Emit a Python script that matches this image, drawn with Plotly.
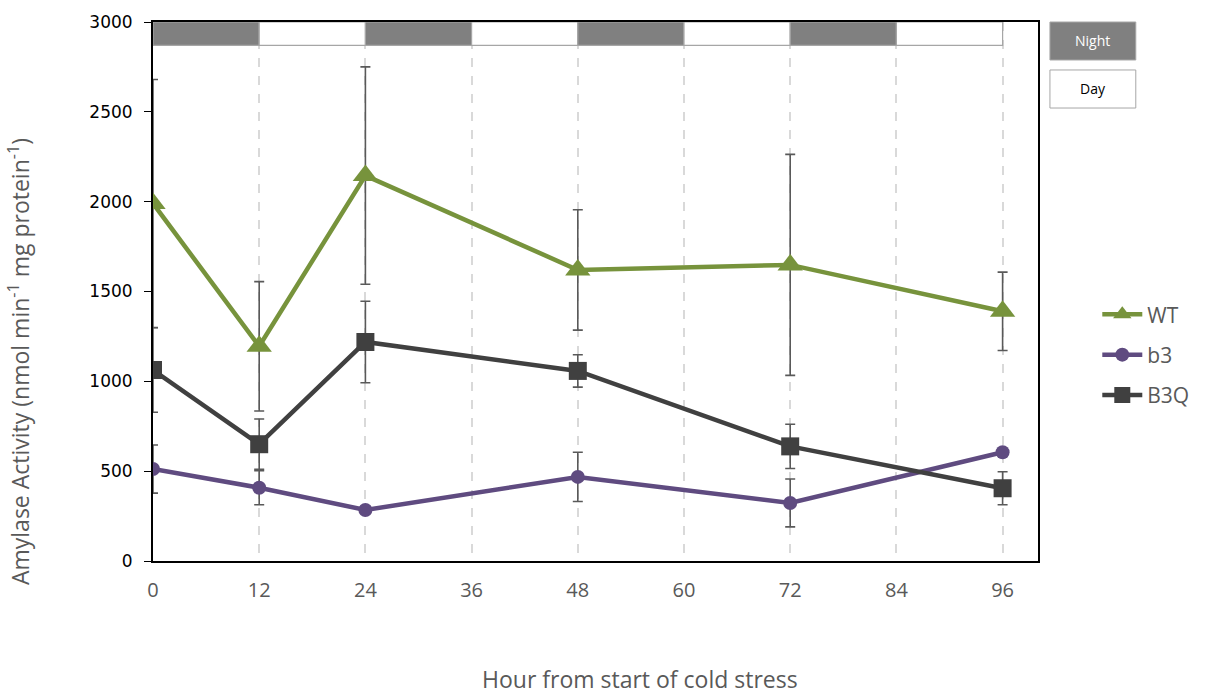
import plotly.graph_objects as go

hours = [0, 12, 24, 48, 72, 96]
wt = [1990, 1195, 2145, 1620, 1648, 1390]
wt_err = [690, 360, 605, 335, 615, 218]
b3 = [512, 408, 284, 468, 323, 605]
b3_err = [134, 95, 20, 137, 133, 20]
b3q = [1063, 650, 1219, 1058, 638, 405]
b3q_err = [235, 140, 227, 90, 123, 92]

series_names = ["WT", "b3", "B3Q"]
colors = ["#77933c", "#5f4b80", "#404040"]
symbols = ["triangle-up", "circle", "square"]
marker_sizes = [22, 14, 18]

period_starts = [0, 12, 24, 36, 48, 60, 72, 84]
period_kinds = ["Night", "Day", "Night", "Day", "Night", "Day", "Night", "Day"]
x_ticks = [0, 12, 24, 36, 48, 60, 72, 84, 96]

fig = go.Figure()
for name, y, err, c, s, ms in zip(series_names, [wt, b3, b3q], [wt_err, b3_err, b3q_err],
                                   colors, symbols, marker_sizes):
    fig.add_trace(go.Scatter(
        x=hours, y=y, name=name, mode="lines+markers",
        line=dict(color=c, width=4.5),
        marker=dict(symbol=s, size=ms, color=c),
        error_y=dict(type="data", array=err, visible=True, color="#595959",
                     thickness=1.6, width=5),
        legendgroup=name,
    ))

# night/day bars
for start, kind in zip(period_starts, period_kinds):
    fig.add_shape(type="rect", xref="x", yref="y", x0=start, x1=start + 12,
                  y0=2870, y1=3000, layer="above",
                  fillcolor="#808080" if kind == "Night" else "white",
                  line=dict(color="#a6a6a6", width=1.2))

# night/day key
fig.add_shape(type="rect", xref="paper", yref="paper", x0=1.0135, x1=1.1105,
              y0=0.9295, y1=1.0, fillcolor="#808080", line=dict(color="#a6a6a6", width=1))
fig.add_shape(type="rect", xref="paper", yref="paper", x0=1.0135, x1=1.1105,
              y0=0.8404, y1=0.911, fillcolor="white", line=dict(color="#a6a6a6", width=1))
fig.add_annotation(xref="paper", yref="paper", x=1.062, y=0.9648, text="Night",
                   xanchor="center", yanchor="middle",
                   showarrow=False, font=dict(family="Open Sans", size=14, color="white"))
fig.add_annotation(xref="paper", yref="paper", x=1.062, y=0.8757, text="Day",
                   xanchor="center", yanchor="middle",
                   showarrow=False, font=dict(family="Open Sans", size=14, color="black"))

# axis titles
fig.add_annotation(xref="paper", yref="paper", x=0.55, y=-0.218, text="Hour from start of cold stress",
                   xanchor="center", yanchor="middle",
                   showarrow=False, font=dict(family="Open Sans", size=23, color="#595959"))
fig.add_annotation(xref="paper", yref="paper", x=-0.152, y=0.37, textangle=-90,
                   xanchor="center", yanchor="middle",
                   text="Amylase Activity (nmol min<sup>-1</sup> mg protein<sup>-1</sup>)",
                   showarrow=False, font=dict(family="Open Sans", size=23, color="#595959"))

fig.update_layout(
    width=1206, height=694,
    margin=dict(l=153, r=166, t=22, b=133),
    paper_bgcolor="white", plot_bgcolor="white",
    showlegend=True,
    legend=dict(x=1.067, y=0.495, xanchor="left", yanchor="top",
                font=dict(family="Open Sans", size=21, color="#595959"),
                tracegroupgap=10, itemwidth=40),
    xaxis=dict(range=[0, 100], tickvals=x_ticks, showgrid=True, gridcolor="#d9d9d9",
               griddash="dash", gridwidth=1.5, zeroline=False,
               showline=True, linecolor="black", linewidth=2, mirror=True,
               ticks="", ticklabelstandoff=10,
               tickfont=dict(family="Open Sans", size=20, color="#595959")),
    yaxis=dict(range=[0, 3000], tickvals=[0, 500, 1000, 1500, 2000, 2500, 3000],
               showgrid=False, zeroline=False,
               showline=True, linecolor="black", linewidth=2, mirror=True,
               ticks="outside", ticklen=7, tickcolor="black", ticklabelstandoff=8,
               tickfont=dict(family="DejaVu Sans", size=17, color="black")),
)

fig.write_html("out.html")
